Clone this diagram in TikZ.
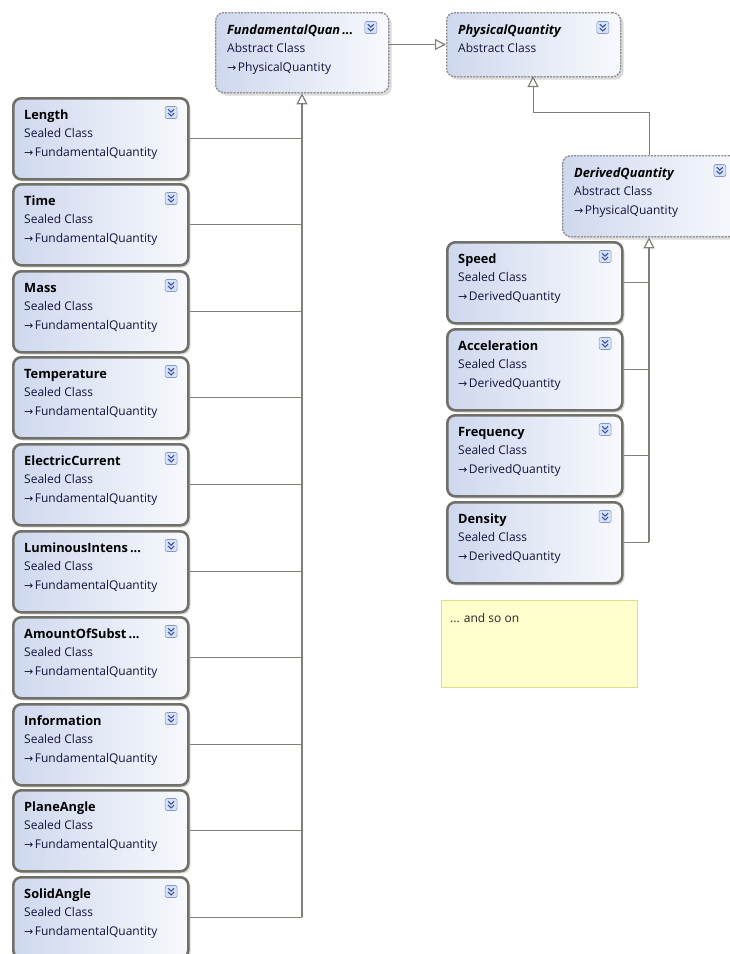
\documentclass[tikz,border=0pt]{standalone}
\usepackage{fontspec}
\setmainfont{Open Sans}
\newfontfamily\symf{DejaVu Sans}
\usetikzlibrary{arrows.meta,calc}
\definecolor{linec}{RGB}{128,128,120}
\definecolor{sealc}{RGB}{112,112,104}
\definecolor{fillL}{RGB}{206,216,238}
\definecolor{fillR}{RGB}{248,249,253}
\definecolor{txt}{RGB}{20,20,60}
\definecolor{notefill}{RGB}{255,255,206}
\definecolor{notedraw}{RGB}{222,222,140}
\definecolor{iconf}{RGB}{214,226,246}
\definecolor{iconb}{RGB}{130,150,200}
\definecolor{iconc}{RGB}{60,80,170}
\tikzset{
 sealed/.style={draw=sealc, line width=2.6pt, rounded corners=8pt, left color=fillL, right color=fillR, inner sep=0pt, anchor=north west},
 abstract/.style={draw=black!45, dash pattern=on 2pt off 1.2pt, line width=1.3pt, rounded corners=8pt, left color=fillL, right color=fillR, inner sep=0pt, anchor=north west},
 shadowbox/.style={fill=black!14, rounded corners=8pt},
 ttl/.style={anchor=base west, font=\fontsize{12.8}{14}\selectfont\bfseries, inner sep=0pt, text=black},
 sub/.style={anchor=base west, font=\fontsize{12}{14}\selectfont, inner sep=0pt, text=txt},
 conn/.style={draw=linec, line width=1pt},
 trunk/.style={draw=linec, line width=1.8pt},
 inh/.style={-{Triangle[open, length=11pt, width=11pt, fill=white, line width=1.2pt]}},
 note/.style={draw=notedraw, line width=1pt, fill=notefill, inner sep=0pt, anchor=north west},
 expico/.pic={
   \draw[draw=iconb, fill=iconf, rounded corners=2pt, line width=0.6pt] (-6,-6) rectangle (6,6);
   \draw[iconc, line width=1.1pt] (-3,-3.2) -- (0,-0.4) -- (3,-3.2);
   \draw[iconc, line width=1.1pt] (-3,0.6) -- (0,3.4) -- (3,0.6);
 }
}
% #1 name, #2 x, #3 y, #4 w, #5 h, #6 style, #7 title, #8 kind, #9 parent
\newcommand\clsbox[9]{%
  \fill[shadowbox] (#2+3.5,#3+3.5) rectangle ++(#4,#5);
  \node[#6, minimum width=#4pt, minimum height=#5pt] (#1) at (#2,#3) {};
  \node[ttl] (#1-t) at ($(#1.north west)+(12,22)$) {#7};
  \node[sub] (#1-k) at ($(#1.north west)+(12,40)$) {#8};
  \if\relax\detokenize{#9}\relax\else
  \node[sub] (#1-p) at ($(#1.north west)+(12,59)$) {{\symf\fontsize{11}{12}\selectfont →}\hspace{1.5pt}#9};
  \fi
  \pic (#1-i) at ($(#1.north east)+(-18.5,15.5)$) {expico};
}
\begin{document}
\begin{tikzpicture}[x=1pt,y=-1pt]
\useasboundingbox (0,0) rectangle (729,954);
\fill[white] (0,0) rectangle (729,954);

% abstract classes
\clsbox{fq}{215}{12}{173}{80}{abstract}{\itshape FundamentalQuan\,...}{Abstract Class}{PhysicalQuantity}
\clsbox{pq}{446}{12}{174}{64}{abstract}{\itshape PhysicalQuantity}{Abstract Class}{}
\clsbox{dq}{562}{155}{175}{81}{abstract}{\itshape DerivedQuantity}{Abstract Class}{PhysicalQuantity}

% fundamental quantities
\clsbox{len}{12}{97}{175}{81}{sealed}{Length}{Sealed Class}{FundamentalQuantity}
\clsbox{tim}{12}{183}{175}{81}{sealed}{Time}{Sealed Class}{FundamentalQuantity}
\clsbox{mas}{12}{270}{175}{81}{sealed}{Mass}{Sealed Class}{FundamentalQuantity}
\clsbox{tem}{12}{356}{175}{81}{sealed}{Temperature}{Sealed Class}{FundamentalQuantity}
\clsbox{ele}{12}{443}{175}{81}{sealed}{ElectricCurrent}{Sealed Class}{FundamentalQuantity}
\clsbox{lum}{12}{530}{175}{81}{sealed}{LuminousIntens\,...}{Sealed Class}{FundamentalQuantity}
\clsbox{amo}{12}{616}{175}{81}{sealed}{AmountOfSubst\,...}{Sealed Class}{FundamentalQuantity}
\clsbox{inf}{12}{703}{175}{81}{sealed}{Information}{Sealed Class}{FundamentalQuantity}
\clsbox{pla}{12}{789}{175}{81}{sealed}{PlaneAngle}{Sealed Class}{FundamentalQuantity}
\clsbox{sol}{12}{876}{175}{81}{sealed}{SolidAngle}{Sealed Class}{FundamentalQuantity}

% derived quantities
\clsbox{spe}{446}{241}{175}{81}{sealed}{Speed}{Sealed Class}{DerivedQuantity}
\clsbox{acc}{446}{328}{175}{81}{sealed}{Acceleration}{Sealed Class}{DerivedQuantity}
\clsbox{fre}{446}{414}{175}{81}{sealed}{Frequency}{Sealed Class}{DerivedQuantity}
\clsbox{den}{446}{501}{175}{81}{sealed}{Density}{Sealed Class}{DerivedQuantity}

% note
\node[note, minimum width=196pt, minimum height=87pt] (note) at (441,600) {};
\node[sub, text=black!85] (note-t) at ($(note.north west)+(9,22)$) {... and so on};

% connectors: fundamental trunk
\coordinate (fqj) at (302,916.5);
\foreach \b in {len,tim,mas,tem,ele,lum,amo,inf,pla,sol}{
  \draw[conn] (\b.east) -- (\b.east -| fqj);
}
\draw[trunk, inh] (fqj) -- (fqj |- fq.south);

% derived trunk
\coordinate (dqj) at (649,541.5);
\foreach \b in {spe,acc,fre,den}{
  \draw[conn] (\b.east) -- (\b.east -| dqj);
}
\draw[trunk, inh] (dqj) -- (dqj |- dq.south);

% fq -> pq
\draw[conn, inh] (fq.east |- 0,44.5) -- (pq.west |- 0,44.5);
% dq -> pq
\coordinate (dqt) at (649,155);
\coordinate (pqb) at (533,76);
\draw[conn, inh] (dqt) -- (649,112) -- (533,112) -- (pqb);
\end{tikzpicture}
\end{document}
